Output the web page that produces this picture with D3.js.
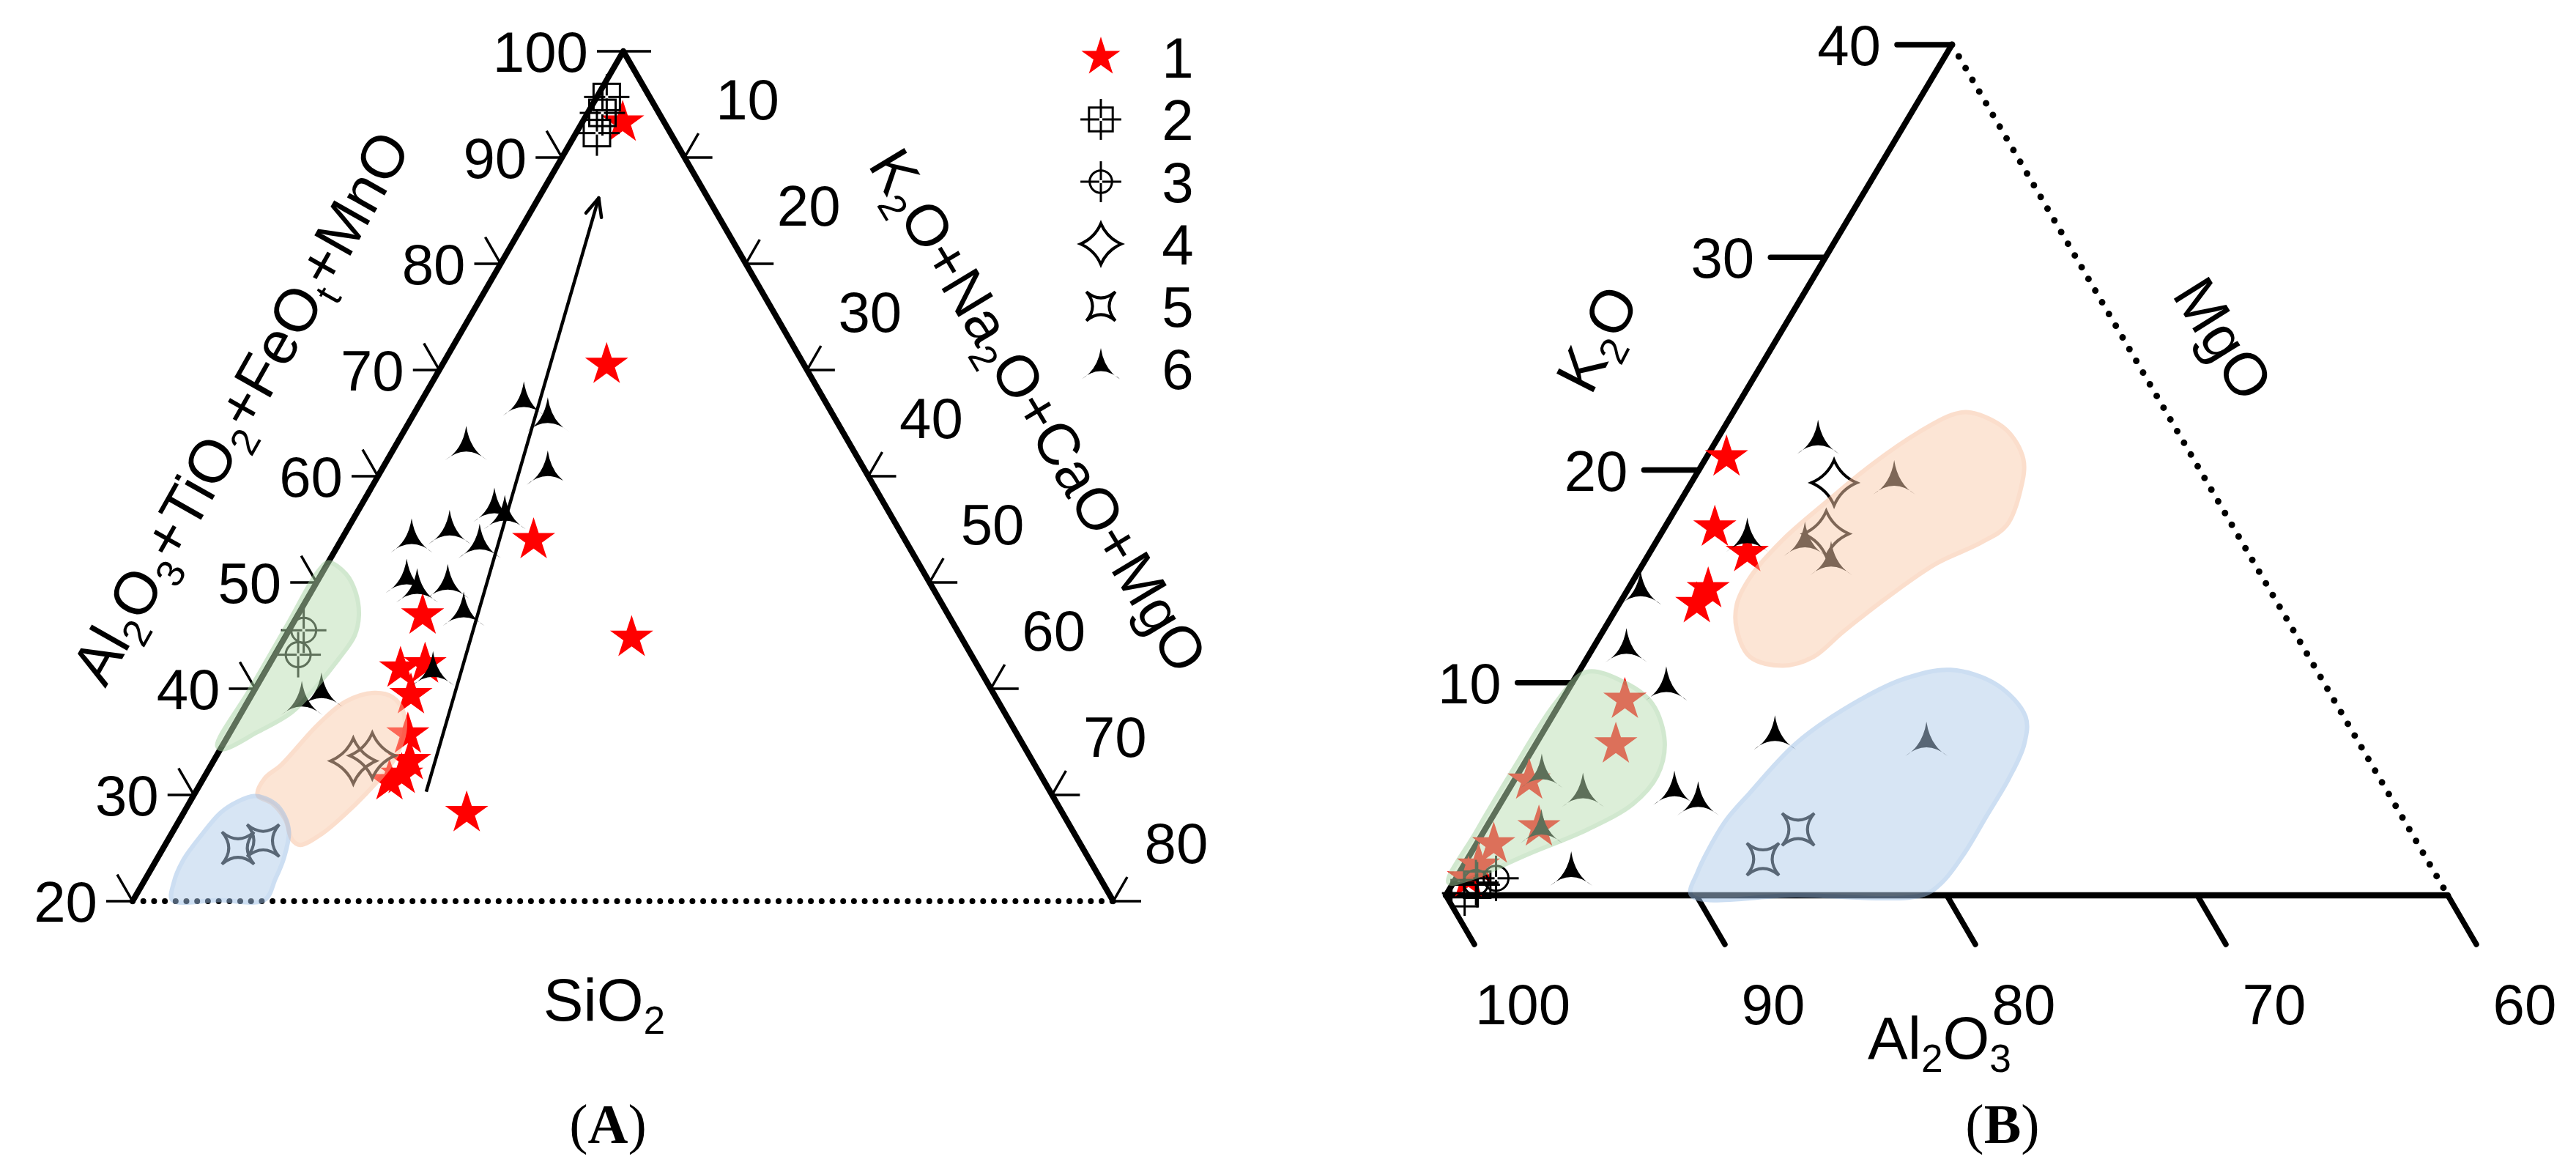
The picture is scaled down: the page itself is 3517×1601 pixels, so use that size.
<!DOCTYPE html>
<html><head><meta charset="utf-8">
<script src="https://cdn.jsdelivr.net/npm/d3@7"></script>
<style>html,body{margin:0;padding:0;background:#fff;} svg{display:block;}</style>
</head><body>
<svg id="chart" width="3517" height="1601"></svg>
<script>
// ================= DATA =================
// Panel A: points are [Al2O3+TiO2+FeOt+MnO, K2O+Na2O+CaO+MgO] (SiO2 = remainder)
const aLeftTicks  = [20, 30, 40, 50, 60, 70, 80, 90, 100];
const aRightTicks = [0, 10, 20, 30, 40, 50, 60, 70, 80];
const aStars = [[93.3,3.3],[70.5,13.4],[54.0,15.7],[44.8,28.3],[46.9,10.2],[41.9,10.9],[42.3,12.7],
                [39.4,13.0],[35.7,14.6],[33.2,16.0],[31.3,15.3],[31.9,16.0],[28.3,23.1]];
const aSquares  = [[95.7,0.8],[94.2,1.2],[92.3,1.7]];
const aCircles  = [[45.5,1.2],[43.2,1.9]];
const aDiamonds = [[33.2,11.4],[33.7,12.7]];
const aConcave  = [[25.0,6.1],[25.7,7.8]];
const aTris = [[66.8,8.5],[65.3,11.2],[62.6,5.9],[60.3,13.7],[56.8,11.1],[56.1,12.3],[54.7,8.5],[53.9,5.8],
               [53.4,11.6],[50.1,7.3],[49.2,8.6],[49.6,10.9],[47.0,13.5],[41.4,13.8],[39.4,5.7],[38.6,4.5]];
const aArrow = [[30.3,18.8],[86.2,4.9]];
const aGreenField  = [[51.9,0],[50.8,2.0],[49.0,3.7],[46.9,5.0],[45.0,5.6],[42.8,5.4],[40.3,4.9],[37.8,4.1],
                      [35.9,2.2],[34.3,0.2],[34.6,-0.4],[40,-0.4],[46,-0.4],[51,-0.4]];
const aOrangeField = [[39.6,9.9],[39.2,11.6],[37.9,13.1],[36.2,14.1],[34.3,14.6],[32.5,14.6],[30.2,14.0],
                      [28.1,13.2],[26.4,12.3],[25.3,11.0],[25.8,10.1],[27.7,8.6],[29.2,6.8],[30.0,5.2],
                      [31.6,5.0],[32.8,5.7],[36.6,6.8],[38.8,8.0]];
const aBlueField   = [[29.9,5.0],[29.2,7.0],[28.0,8.4],[26.5,9.5],[24.1,10.3],[22.1,10.6],[20.1,10.7],
                      [20.1,7.0],[20.1,3.2],[21.7,2.5],[23.8,2.2],[26.2,2.5],[28.3,3.0],[29.3,3.8]];

// Panel B: points are [K2O, MgO] (Al2O3 = remainder)
const bLeftTicks   = [10, 20, 30, 40];
const bBottomTicks = [100, 90, 80, 70, 60];
const bStars = [[20.6,0.8],[17.3,2.0],[16.1,3.9],[14.4,3.2],[13.7,3.1],[9.2,2.5],[7.1,3.2],[5.4,0.6],
                [3.2,2.1],[2.4,0.7],[1.4,0.6],[0.8,0.5]];
const bSquares  = [[0.1,0.7],[0.5,1.0]];
const bCircles  = [[0.6,0.9],[0.8,1.6]];
const bDiamonds = [[19.4,5.7],[17.0,6.6]];
const bConcave  = [[3.1,12.5],[1.7,11.8]];
const bTris = [[21.3,4.1],[19.4,8.1],[16.5,6.0],[15.6,7.5],[16.7,3.6],[14.2,0.6],[11.5,1.4],[9.7,3.9],
               [7.4,9.4],[7.1,15.6],[5.6,1.0],[4.7,3.1],[4.8,6.7],[4.3,7.9],[3.0,2.3],[1.0,4.5]];
const bGreenField  = [[10.5,0.3],[10.0,2.1],[9.0,3.7],[7.2,5.1],[5.6,5.6],[4.3,5.3],[3.1,4.1],[2.0,2.4],
                      [0.8,0.6],[0.6,-0.2],[3,-0.3],[6,-0.3],[9,-0.2]];
const bOrangeField = [[22.7,9.5],[21.9,11.3],[20.5,12.7],[19.1,13.3],[17.4,13.6],[16.6,13.0],[15.6,11.7],
                      [14.1,10.6],[12.4,9.6],[11.2,9.0],[10.8,8.0],[11.2,6.5],[12.5,5.3],[13.7,4.7],
                      [15.0,4.6],[16.7,5.0],[18.6,5.9],[20.3,6.8],[21.8,7.9],[22.6,8.8]];
const bBlueField   = [[10.6,14.8],[9.9,17.0],[8.4,18.9],[7.1,19.5],[5.5,19.7],[3.7,19.7],[2.0,19.7],
                      [0.6,19.5],[0,19.0],[0,14.0],[0,9.8],[1.1,9.5],[2.1,9.4],[3.5,9.4],[4.8,9.7],
                      [7.2,10.4],[9.2,11.9],[10.2,13.2]];

const legendLabels = ["1","2","3","4","5","6"];
const legendTypes  = ["star","square","circle","diamond","concave","tri"];

// ================= SETUP =================
const FONT = "'Liberation Sans', Arial, Helvetica, sans-serif";
const SERIF = "'Liberation Serif', 'Times New Roman', serif";
const svg = d3.select('#chart');
svg.append('rect').attr('width',3517).attr('height',1601).attr('fill','#fff');

// Panel A ternary scales (top = Al2O3+..., bottom-right = K2O+..., bottom-left = SiO2)
const aY = d3.scaleLinear().domain([20,100]).range([1230,70]);
const aLeftX = d3.scaleLinear().domain([20,100]).range([181,851]);
const aSpan = d3.scaleLinear().domain([0,80]).range([0,1339]);
const projA = d => [aLeftX(d[0]) + aSpan(d[1]), aY(d[0])];

// Panel B ternary scales (top = K2O 40, bottom-left = Al2O3 100, bottom-right = MgO 40)
const bY = d3.scaleLinear().domain([0,40]).range([1222,61]);
const bLeftX = d3.scaleLinear().domain([0,40]).range([1974,2665]);
const bSpan = d3.scaleLinear().domain([0,40]).range([0,1368]);
const projB = d => [bLeftX(d[0]) + bSpan(d[1]), bY(d[0])];

const gAxes = svg.append('g');
const gMarks = svg.append('g');
const gFields = svg.append('g');
const gText = svg.append('g');

function line(g, p1, p2, w, extra){
  const l = g.append('line').attr('x1',p1[0]).attr('y1',p1[1]).attr('x2',p2[0]).attr('y2',p2[1])
    .attr('stroke','#000').attr('stroke-width',w);
  if (extra) extra(l);
  return l;
}
function richText(parent, str, size, family){
  const t = parent.append('text').attr('font-family', family || FONT).attr('font-size', size).attr('fill','#000');
  const toks = [];
  for (let k=0;k<str.length;k++){
    if (str[k]==='_'){ toks.push({t:str[k+1], s:true}); k++; }
    else if (toks.length && !toks[toks.length-1].s) toks[toks.length-1].t += str[k];
    else toks.push({t:str[k], s:false});
  }
  let down = false;
  toks.forEach(tok=>{
    const ts = t.append('tspan').text(tok.t);
    if (tok.s){ ts.attr('font-size', size*0.65); if(!down){ ts.attr('dy', size*0.22); down=true; } }
    else if (down){ ts.attr('dy', -size*0.22); down=false; }
  });
  return t;
}

// ---------- symbols ----------
function starPath(R){
  const r = R*0.382; let p='';
  for (let i=0;i<10;i++){
    const a = -Math.PI/2 + i*Math.PI/5, rr = (i%2)? r : R;
    p += (i?'L':'M') + (rr*Math.cos(a)).toFixed(2) + ',' + (rr*Math.sin(a)).toFixed(2);
  }
  return p + 'Z';
}
function triPath(k){
  return `M0,${-31*k} Q${5*k},${2*k} ${29*k},${16*k} Q0,${-8*k} ${-29*k},${16*k} Q${-5*k},${2*k} 0,${-31*k}Z`;
}
function diamondPath(R){
  const c = 0.3*R;
  return `M0,${-R} Q${c},${-c} ${R},0 Q${c},${c} 0,${R} Q${-c},${c} ${-R},0 Q${-c},${-c} 0,${-R}Z`;
}
function concavePath(a){
  const c = 0.15*a;
  return `M${-a},${-a} Q0,${-c} ${a},${-a} Q${c},0 ${a},${a} Q0,${c} ${-a},${a} Q${-c},0 ${-a},${-a}Z`;
}
function cross(g, L){
  const gap = 2;
  [[[-L,0],[-gap,0]],[[gap,0],[L,0]],[[0,-L],[0,-gap]],[[0,gap],[0,L]]].forEach(s=>line(g, s[0], s[1], 3));
}
function drawSymbol(g, type, x, y, k){
  const s = g.append('g').attr('transform', `translate(${x},${y})`);
  if (type==='star') s.append('path').attr('d', starPath(31*k)).attr('fill','#ff0000');
  else if (type==='tri') s.append('path').attr('d', triPath(k)).attr('fill','#000');
  else if (type==='square'){
    s.append('rect').attr('x',-18*k).attr('y',-18*k).attr('width',36*k).attr('height',36*k)
      .attr('fill','none').attr('stroke','#000').attr('stroke-width',3);
    cross(s, 31*k);
  } else if (type==='circle'){
    s.append('circle').attr('r',17*k).attr('fill','none').attr('stroke','#000').attr('stroke-width',3);
    cross(s, 31*k);
  } else if (type==='diamond'){
    s.append('path').attr('d', diamondPath(31*k)).attr('fill','none').attr('stroke','#000').attr('stroke-width',4);
  } else if (type==='concave'){
    s.append('path').attr('d', concavePath(22*k)).attr('fill','none').attr('stroke','#000').attr('stroke-width',4);
  }
}
function drawSet(data, proj, type){ data.forEach(d=>{ const p=proj(d); drawSymbol(gMarks, type, p[0], p[1], 1); }); }

// ================= PANEL A AXES =================
const aApex = projA([100,0]), aBL = projA([20,0]), aBR = projA([20,80]);
line(gAxes, aBL, aApex, 8, l=>l.attr('stroke-linecap','round'));
line(gAxes, aApex, aBR, 8, l=>l.attr('stroke-linecap','round'));
line(gAxes, aBL, aBR, 8, l=>l.attr('stroke-linecap','round').attr('stroke-dasharray','0 14.7'));

aLeftTicks.forEach(v=>{
  const p = projA([v,0]);
  line(gAxes, p, [p[0]-36, p[1]], 3.5);
  if (v<100) line(gAxes, p, [p[0]-21, p[1]-36.4], 3.5);
  gText.append('text').attr('x', p[0]-48).attr('y', p[1]+28).attr('text-anchor','end')
    .attr('font-family',FONT).attr('font-size',78).text(v);
});
aRightTicks.forEach(v=>{
  const p = projA([100-v, v]);
  line(gAxes, p, [p[0]+38, p[1]], 3.5);
  if (v>0){
    line(gAxes, p, [p[0]+19, p[1]-33], 3.5);
    gText.append('text').attr('x', p[0]+86).attr('y', p[1]-80+28).attr('text-anchor','middle')
      .attr('font-family',FONT).attr('font-size',78).text(v);
  }
});

// arrow
{
  const p0 = projA(aArrow[0]), p1 = projA(aArrow[1]);
  line(gAxes, p0, p1, 4.5);
  const ang = Math.atan2(p0[1]-p1[1], p0[0]-p1[0]);
  [-0.42, 0.42].forEach(da=>{
    line(gAxes, p1, [p1[0]+27*Math.cos(ang+da), p1[1]+27*Math.sin(ang+da)], 4.5, l=>l.attr('stroke-linecap','round'));
  });
}

// titles A
{
  const g1 = gText.append('g').attr('transform','translate(328,556) rotate(-60.5)');
  richText(g1, 'Al_2O_3+TiO_2+FeO_t+MnO', 82).attr('text-anchor','middle').attr('y', 29);
  const g2 = gText.append('g').attr('transform','translate(1418,560) rotate(59)');
  richText(g2, 'K_2O+Na_2O+CaO+MgO', 80).attr('text-anchor','middle').attr('y', 28);
  richText(gText, 'SiO_2', 82).attr('text-anchor','middle').attr('x', 825).attr('y', 1393);
}

// legend
legendTypes.forEach((t,i)=>{
  const y = 78 + 85*i;
  drawSymbol(gText, t, 1503, y, 0.9);
  gText.append('text').attr('x',1608).attr('y', y+28).attr('text-anchor','middle')
    .attr('font-family',FONT).attr('font-size',78).text(legendLabels[i]);
});

// ================= PANEL B AXES =================
const bTop = projB([40,0]), bBL = projB([0,0]), bBR = projB([0,40]);
line(gAxes, bBL, bTop, 8, l=>l.attr('stroke-linecap','round'));
line(gAxes, bBL, bBR, 8.5, l=>l.attr('stroke-linecap','round'));
line(gAxes, bTop, bBR, 9, l=>l.attr('stroke-linecap','round').attr('stroke-dasharray','0 18.5'));

bLeftTicks.forEach(v=>{
  const p = projB([v,0]);
  line(gAxes, p, [p[0]-75, p[1]], 7.5, l=>l.attr('stroke-linecap','round'));
  gText.append('text').attr('x', p[0]-97).attr('y', p[1]+28).attr('text-anchor','end')
    .attr('font-family',FONT).attr('font-size',78).text(v);
});
bBottomTicks.forEach(v=>{
  const p = projB([0, 100-v]);
  line(gAxes, p, [p[0]+39, p[1]+67], 7.5, l=>l.attr('stroke-linecap','round'));
  gText.append('text').attr('x', p[0]+105).attr('y', p[1]+148+28).attr('text-anchor','middle')
    .attr('font-family',FONT).attr('font-size',78).text(v);
});
{
  const g1 = gText.append('g').attr('transform','translate(2180,462) rotate(-63)');
  richText(g1, 'K_2O', 82).attr('text-anchor','middle').attr('y', 29);
  const g2 = gText.append('g').attr('transform','translate(3036,462) rotate(58)');
  richText(g2, 'MgO', 82).attr('text-anchor','middle').attr('y', 29);
  richText(gText, 'Al_2O_3', 82).attr('text-anchor','middle').attr('x', 2648).attr('y', 1445);
}

// panel captions
[['A',830],['B',2734]].forEach(([c,x])=>{
  const t = gText.append('text').attr('x',x).attr('y',1560).attr('text-anchor','middle')
    .attr('font-family',SERIF).attr('font-size',76);
  t.append('tspan').text('(');
  t.append('tspan').attr('font-weight','bold').text(c);
  t.append('tspan').text(')');
});

// ================= MARKERS =================
drawSet(aStars, projA, 'star');
drawSet(aTris, projA, 'tri');
drawSet(aSquares, projA, 'square');
drawSet(aCircles, projA, 'circle');
drawSet(aDiamonds, projA, 'diamond');
drawSet(aConcave, projA, 'concave');

drawSet(bStars, projB, 'star');
drawSet(bTris, projB, 'tri');
drawSet(bSquares, projB, 'square');
drawSet(bCircles, projB, 'circle');
drawSet(bDiamonds, projB, 'diamond');
drawSet(bConcave, projB, 'concave');

// ================= FIELDS (semi-transparent, drawn over) =================
const fieldLine = proj => d3.line().x(d=>proj(d)[0]).y(d=>proj(d)[1]).curve(d3.curveCatmullRomClosed.alpha(0.5));
function field(data, proj, fill, stroke){
  gFields.append('path').attr('d', fieldLine(proj)(data))
    .attr('fill', fill).attr('stroke', stroke).attr('stroke-width', 6).attr('opacity', 0.5);
}
field(aGreenField, projA, 'rgb(187,223,179)', 'rgb(165,210,160)');
field(aOrangeField, projA, 'rgb(251,205,173)', 'rgb(249,190,155)');
field(aBlueField, projA, 'rgb(177,205,235)', 'rgb(155,190,230)');
field(bGreenField, projB, 'rgb(187,223,179)', 'rgb(165,210,160)');
field(bOrangeField, projB, 'rgb(251,205,173)', 'rgb(249,190,155)');
field(bBlueField, projB, 'rgb(177,205,235)', 'rgb(155,190,230)');
</script>
</body></html>
